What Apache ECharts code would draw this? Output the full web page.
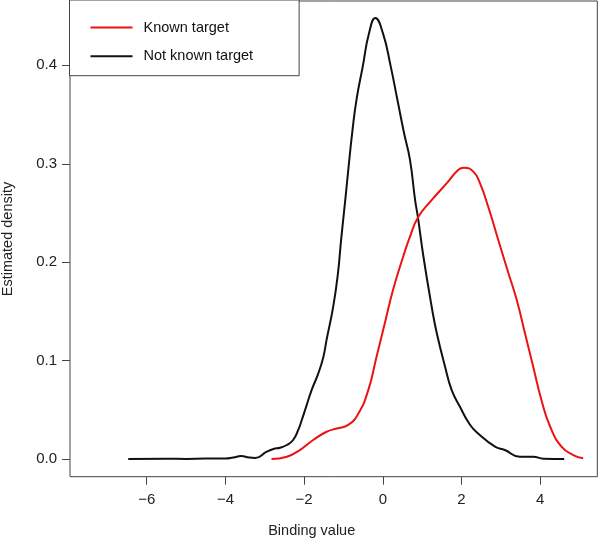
<!DOCTYPE html>
<html>
<head>
<meta charset="utf-8">
<script src="https://cdn.jsdelivr.net/npm/echarts@6/dist/echarts.min.js"></script>
<style>html,body{margin:0;padding:0;background:#fff}#c{width:603px;height:539px}</style>
</head>
<body>
<div id="c"></div>
<script>
// Density curves: [binding value, density]
var knownTarget = [
  [-2.83,0.000],[-2.44,0.0023],[-2.11,0.0091],[-1.77,0.0193],[-1.43,0.0277],[-1.17,0.031],
  [-0.88,0.0346],[-0.625,0.046],[-0.37,0.070],[-0.16,0.104],[0.05,0.138],[0.26,0.172],
  [0.52,0.206],[0.69,0.226],[0.90,0.246],[1.24,0.263],[1.62,0.280],[1.92,0.294],
  [2.06,0.296],[2.30,0.292],[2.47,0.280],[2.68,0.256],[2.93,0.223],[3.19,0.189],
  [3.40,0.162],[3.61,0.128],[3.82,0.094],[4.03,0.060],[4.25,0.033],[4.54,0.0125],
  [4.84,0.004],[5.09,0.0007]
];
var notKnownTarget = [
  [-6.47,0.000],[-5.5,0.0002],[-5.0,0.0001],[-4.5,0.0004],[-4.0,0.0004],[-3.8,0.0015],
  [-3.6,0.003],[-3.4,0.0015],[-3.25,0.001],[-2.95,0.0074],[-2.78,0.0102],[-2.61,0.0115],
  [-2.44,0.0142],[-2.28,0.0193],[-2.15,0.0295],[-2.06,0.0396],[-1.95,0.053],[-1.81,0.070],
  [-1.64,0.087],[-1.51,0.104],[-1.43,0.121],[-1.26,0.155],[-1.14,0.189],[-1.06,0.223],
  [-0.955,0.263],[-0.87,0.297],[-0.78,0.331],[-0.67,0.365],[-0.51,0.399],[-0.35,0.433],
  [-0.19,0.448],[0.0,0.433],[0.20,0.399],[0.37,0.365],[0.54,0.331],[0.69,0.304],
  [0.82,0.263],[0.89,0.246],[1.03,0.206],[1.24,0.155],[1.37,0.128],[1.58,0.094],
  [1.75,0.070],[1.96,0.053],[2.21,0.035],[2.42,0.026],[2.85,0.0125],[3.10,0.0091],
  [3.48,0.0023],[3.82,0.0023],[4.08,0.0003],[4.61,0.000]
];
var xTicks = [-6,-4,-2,0,2,4];
var yTicks = [0,0.1,0.2,0.3,0.4];
var seriesNames = ['Known target','Not known target'];
var xTitle = 'Binding value';
var yTitle = 'Estimated density';

var font = 'Liberation Sans, Arial, Helvetica, sans-serif';
var chart = echarts.init(document.getElementById('c'), null, {renderer:'canvas'});
chart.setOption({
  animation: false,
  backgroundColor: '#fff',
  grid: {left: 70, right: 5.7, top: 1, bottom: 62.3, show: true, borderColor: '#444', borderWidth: 1, backgroundColor: 'transparent'},
  xAxis: {
    type: 'value', min: -7.95, max: 5.45,
    axisLine: {show: false, onZero: false},
    splitLine: {show: false},
    axisTick: {show: true, customValues: xTicks, length: 8, lineStyle: {color: '#444', width: 1}},
    axisLabel: {customValues: xTicks, margin: 16, fontSize: 15, fontFamily: font, color: '#222',
      formatter: function(v){ return String(v).replace('-', '\u2212'); }}
  },
  yAxis: {
    type: 'value', min: -0.018, max: 0.4654,
    axisLine: {show: false, onZero: false},
    splitLine: {show: false},
    axisTick: {show: true, customValues: yTicks, length: 8, lineStyle: {color: '#444', width: 1}},
    axisLabel: {customValues: yTicks, margin: 13, fontSize: 15, fontFamily: font, color: '#222',
      formatter: function(v){ return v.toFixed(1); }}
  },
  legend: {
    left: 69.5, top: 0, orient: 'vertical',
    data: seriesNames,
    icon: 'rect',
    backgroundColor: '#fff', borderColor: '#444', borderWidth: 1, borderRadius: 0,
    padding: [20, 46, 12, 21],
    itemWidth: 42, itemHeight: 2, itemGap: 13.7,
    textStyle: {fontSize: 14.5, fontFamily: font, color: '#111', lineHeight: 14, padding: [0,0,0,6]}
  },
  graphic: [
    {type: 'text', x: 311.7, y: 531, style: {text: xTitle, fontSize: 14.5, fontFamily: font, fill: '#222', textAlign: 'center', textVerticalAlign: 'middle'}},
    {type: 'text', x: 8, y: 239, rotation: Math.PI/2, style: {text: yTitle, fontSize: 14.5, fontFamily: font, fill: '#222', textAlign: 'center', textVerticalAlign: 'middle'}}
  ],
  series: [
    {name: seriesNames[0], type: 'line', data: knownTarget, symbol: 'none', smooth: 0.5,
      lineStyle: {color: '#ee1111', width: 2}, itemStyle: {color: '#ee1111'}, z: 3},
    {name: seriesNames[1], type: 'line', data: notKnownTarget, symbol: 'none', smooth: 0.5,
      lineStyle: {color: '#111', width: 2}, itemStyle: {color: '#111'}, z: 2}
  ]
});
</script>
</body>
</html>
